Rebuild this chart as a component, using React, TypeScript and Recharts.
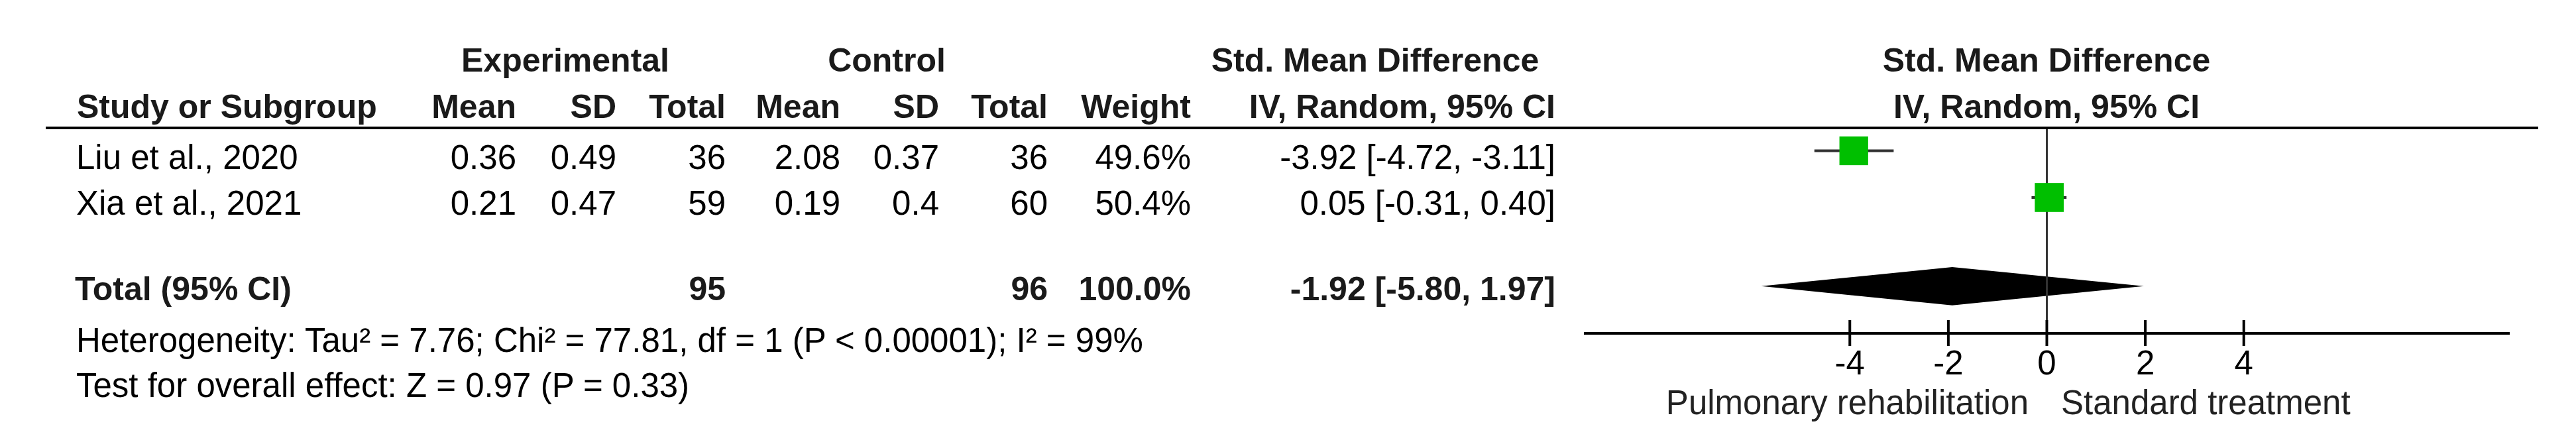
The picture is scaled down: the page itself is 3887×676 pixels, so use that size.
import { ComposedChart, Scatter, XAxis, YAxis, ErrorBar, ReferenceLine, ReferenceArea } from 'recharts';

// study rows
const studies = ['Liu et al., 2020', 'Xia et al., 2021'];
const expMean = ['0.36', '0.21'];
const expSD = ['0.49', '0.47'];
const expTotal = [36, 59];
const ctlMean = ['2.08', '0.19'];
const ctlSD = ['0.37', '0.4'];
const ctlTotal = [36, 60];
const weights = [49.6, 50.4];
const smd = [-3.92, 0.05];
const ciLow = [-4.72, -0.31];
const ciHigh = [-3.11, 0.4];
const rowY = [0.49, 1.49];

// pooled estimate
const totalEst = -1.92;
const totalLow = -5.8;
const totalHigh = 1.97;
const totalRowY = 3.39;
const diamondHalf = 0.41;

const xTicks = [-4, -2, 0, 2, 4];
const xDomain = [-9.4, 9.4];

const W = 3887;
const H = 676;
const FONT = "'Liberation Sans', Arial, sans-serif";

// right edges of the numeric columns
const colX = [779, 930, 1095, 1268, 1417, 1581, 1797, 2347];
const rowBase = [255, 324];

const fmtCI = (e: number, l: number, h: number) => `${e.toFixed(2)} [${l.toFixed(2)}, ${h.toFixed(2)}]`;

const T = ({ x, y, children, anchor = 'start', bold = false, fill }: any) => (
  <text
    x={x}
    y={y}
    textAnchor={anchor}
    fontFamily={FONT}
    fontSize={bold ? 50 : 51}
    fontWeight={bold ? 700 : 400}
    fill={fill || (bold ? '#1a1a1a' : '#000')}
  >
    {children}
  </text>
);

const squareData = studies.map((s, i) => ({
  name: s,
  x: smd[i],
  y: rowY[i],
  w: weights[i],
  err: [smd[i] - ciLow[i], ciHigh[i] - smd[i]],
}));

const Square = (props: any) => {
  const { cx, cy, payload } = props;
  const s = Math.sqrt(payload.w) * 6.15;
  return <rect x={cx - s / 2} y={cy - s / 2} width={s} height={s} fill="#00bf00" />;
};

const Diamond = (props: any) => {
  const { x, y, width, height } = props;
  const top = height < 0 ? y + height : y;
  const h = Math.abs(height);
  const f = (totalEst - totalLow) / (totalHigh - totalLow);
  const px = x + width * f;
  const pts = [
    [x, top + h / 2],
    [px, top],
    [x + width, top + h / 2],
    [px, top + h],
  ].map(p => p.join(',')).join(' ');
  return <polygon points={pts} fill="#000" />;
};

const AxisTick = ({ x, y, payload }: any) => (
  <g>
    <line x1={x} x2={x} y1={y - 20} y2={y + 19} stroke="#000" strokeWidth={4} />
    <text x={x} y={y + 62} textAnchor="middle" fontFamily={FONT} fontSize={51} fill="#000">
      {payload.value}
    </text>
  </g>
);

export default function App() {
  const expSum = expTotal.reduce((a, b) => a + b, 0);
  const ctlSum = ctlTotal.reduce((a, b) => a + b, 0);
  const wSum = weights.reduce((a, b) => a + b, 0);

  return (
    <div style={{ position: 'relative', width: W, height: H, background: '#fff' }}>
      <style>{'body{margin:0;background:#fff}'}</style>
      <ComposedChart width={W} height={H} margin={{ top: 193, right: 100, bottom: 113, left: 2390 }}>
        <XAxis
          type="number"
          dataKey="x"
          domain={xDomain}
          ticks={xTicks}
          interval={0}
          height={60}
          axisLine={{ stroke: '#000', strokeWidth: 4 }}
          tickLine={false}
          tickSize={0}
          tickMargin={0}
          tick={<AxisTick />}
          allowDataOverflow
        />
        <YAxis type="number" dataKey="y" domain={[0, 4.4]} reversed hide width={0} allowDataOverflow />
        <ReferenceLine x={0} stroke="#333" strokeWidth={3} />
        <ReferenceArea
          x1={totalLow}
          x2={totalHigh}
          y1={totalRowY - diamondHalf}
          y2={totalRowY + diamondHalf}
          shape={<Diamond />}
          ifOverflow="visible"
        />
        <Scatter data={squareData} shape={<Square />} isAnimationActive={false}>
          <ErrorBar dataKey="err" direction="x" width={0} stroke="#333" strokeWidth={4} isAnimationActive={false} />
        </Scatter>
      </ComposedChart>

      <svg width={W} height={H} style={{ position: 'absolute', left: 0, top: 0, pointerEvents: 'none' }}>
        <line x1={69} x2={3830} y1={193} y2={193} stroke="#000" strokeWidth={4} />

        <T x={853} y={108} anchor="middle" bold>Experimental</T>
        <T x={1338} y={108} anchor="middle" bold>Control</T>
        <T x={2075} y={108} anchor="middle" bold>Std. Mean Difference</T>
        <T x={3088} y={108} anchor="middle" bold>Std. Mean Difference</T>

        <T x={116} y={178} bold>Study or Subgroup</T>
        {['Mean', 'SD', 'Total', 'Mean', 'SD', 'Total', 'Weight', 'IV, Random, 95% CI'].map((h, i) => (
          <T key={i} x={colX[i]} y={178} anchor="end" bold>{h}</T>
        ))}
        <T x={3088} y={178} anchor="middle" bold>IV, Random, 95% CI</T>

        {studies.map((s, i) => {
          const cells = [
            expMean[i], expSD[i], String(expTotal[i]),
            ctlMean[i], ctlSD[i], String(ctlTotal[i]),
            `${weights[i].toFixed(1)}%`, fmtCI(smd[i], ciLow[i], ciHigh[i]),
          ];
          return (
            <g key={s}>
              <T x={115} y={rowBase[i]}>{s}</T>
              {cells.map((c, j) => (
                <T key={j} x={colX[j]} y={rowBase[i]} anchor="end">{c}</T>
              ))}
            </g>
          );
        })}

        <T x={113} y={453} bold>Total (95% CI)</T>
        <T x={colX[2]} y={453} anchor="end" bold>{expSum}</T>
        <T x={colX[5]} y={453} anchor="end" bold>{ctlSum}</T>
        <T x={colX[6]} y={453} anchor="end" bold>{`${wSum.toFixed(1)}%`}</T>
        <T x={colX[7]} y={453} anchor="end" bold>{fmtCI(totalEst, totalLow, totalHigh)}</T>

        <T x={115} y={531}>Heterogeneity: Tau² = 7.76; Chi² = 77.81, df = 1 (P &lt; 0.00001); I² = 99%</T>
        <T x={115} y={599}>Test for overall effect: Z = 0.97 (P = 0.33)</T>

        <T x={3061} y={625} anchor="end" fill="#222">Pulmonary rehabilitation</T>
        <T x={3110} y={625} fill="#222">Standard treatment</T>
      </svg>
    </div>
  );
}
